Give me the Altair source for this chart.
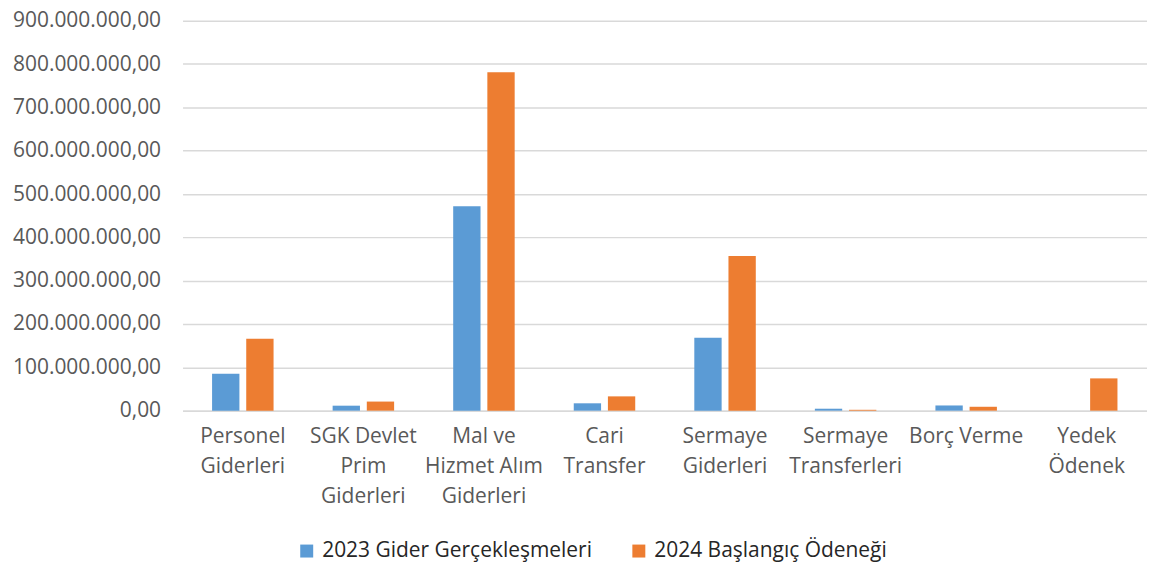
import altair as alt
import pandas as pd

categories = ["Personel|Giderleri", "SGK Devlet|Prim|Giderleri", "Mal ve|Hizmet Alım|Giderleri",
              "Cari|Transfer", "Sermaye|Giderleri", "Sermaye|Transferleri", "Borç Verme", "Yedek|Ödenek"]
series = ["2023 Gider Gerçekleşmeleri", "2024 Başlangıç Ödeneği"]
v2023 = [85e6, 11.5e6, 472e6, 17e6, 168e6, 4.5e6, 12e6, 0]
v2024 = [166e6, 21e6, 781e6, 33e6, 357e6, 2e6, 9e6, 74.5e6]
y_ticks = [0, 1e8, 2e8, 3e8, 4e8, 5e8, 6e8, 7e8, 8e8, 9e8]
colors = ["#5B9BD5", "#ED7D31"]

rows = []
for c, a, b in zip(categories, v2023, v2024):
    rows.append({"cat": c, "series": series[0], "value": a})
    rows.append({"cat": c, "series": series[1], "value": b})
df = pd.DataFrame(rows)

FONT = "Open Sans"

chart = alt.Chart(df).mark_bar().encode(
    x=alt.X("cat:N", sort=categories,
            scale=alt.Scale(paddingInner=0.49, paddingOuter=0.245),
            axis=alt.Axis(title=None, labelAngle=0, labelExpr="split(datum.label, '|')",
                          labelFont=FONT, labelFontSize=21, labelColor="#595959",
                          labelLineHeight=30, labelPadding=15, labelLimit=200,
                          domainColor="#d9d9d9", domainWidth=1.5, ticks=False)),
    xOffset=alt.XOffset("series:N", sort=series,
                        scale=alt.Scale(paddingInner=0.2, paddingOuter=0)),
    y=alt.Y("value:Q", scale=alt.Scale(domain=[0, 9e8], nice=False),
            axis=alt.Axis(title=None, values=y_ticks,
                          labelExpr="replace(replace(replace(format(datum.value, ',.2f'), /,/g, '_'), /\\./g, ','), /_/g, '.')",
                          labelFont=FONT, labelFontSize=21, labelColor="#595959", labelPadding=22,
                          grid=True, gridColor="#d9d9d9", gridWidth=1.5, domain=False, ticks=False)),
    color=alt.Color("series:N", sort=series,
                    scale=alt.Scale(domain=series, range=colors),
                    legend=alt.Legend(title=None, orient="none", legendX=114, legendY=521,
                                      direction="horizontal", symbolType="square", symbolSize=169,
                                      symbolStrokeWidth=0, labelFont=FONT, labelFontSize=21,
                                      labelColor="#262626", labelOffset=5, labelLimit=400,
                                      columnPadding=36)),
).properties(
    width=967, height=391,
    autosize=alt.AutoSizeParams(type="none"),
    padding={"left": 175, "top": 12, "right": 0, "bottom": 151},
).configure_view(stroke=None)

chart.save("out.html", embed_options={"renderer": "svg", "actions": False})
